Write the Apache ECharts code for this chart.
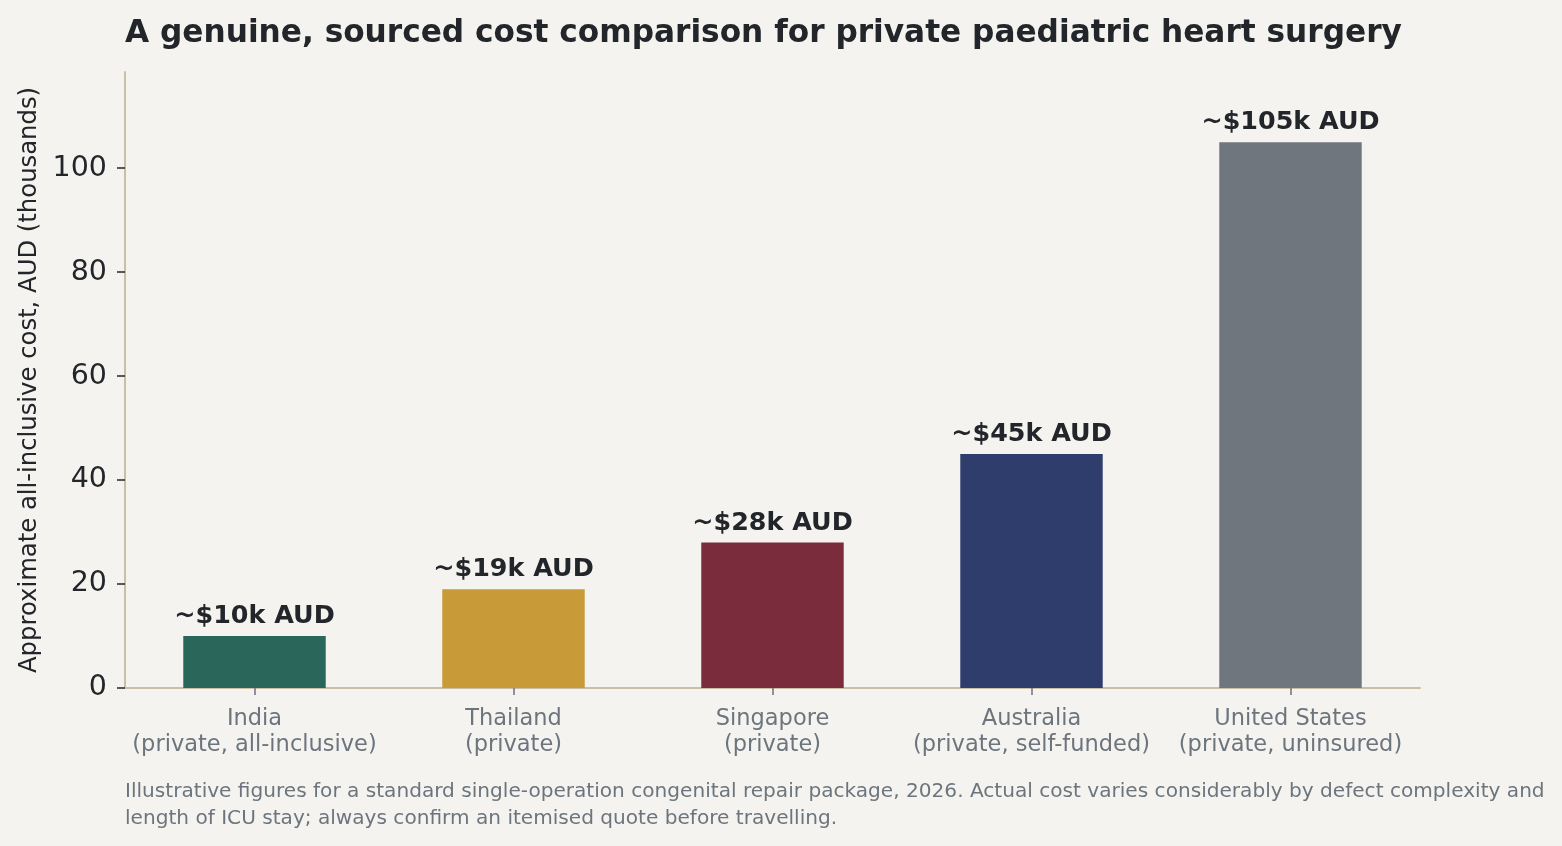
<!DOCTYPE html>
<html><head><meta charset="utf-8">
<script src="https://cdn.jsdelivr.net/npm/echarts@6/dist/echarts.min.js"></script>
<style>html,body{margin:0;padding:0;background:#f4f3ef;}#c{width:1562px;height:846px;}</style>
</head><body><div id="c"></div>
<script>
const categories = ["India\n(private, all-inclusive)", "Thailand\n(private)", "Singapore\n(private)", "Australia\n(private, self-funded)", "United States\n(private, uninsured)"];
const values = [10, 19, 28, 45, 105];
const valueLabels = ["~$10k AUD", "~$19k AUD", "~$28k AUD", "~$45k AUD", "~$105k AUD"];
const barColors = ["#2a6659", "#c99a38", "#7a2c3d", "#2e3d6b", "#70767d"];
const yTicks = [0, 20, 40, 60, 80, 100];

const font = "DejaVu Sans";
const chart = echarts.init(document.getElementById('c'), null, {renderer: 'canvas'});
chart.setOption({
  backgroundColor: '#f4f3ef',
  animation: false,
  textStyle: {fontFamily: font},
  title: {
    text: "A genuine, sourced cost comparison for private paediatric heart surgery",
    left: 120, top: 13,
    textStyle: {fontFamily: font, fontWeight: 'bold', fontSize: 31.2, color: '#222529'}
  },
  grid: {left: 125, right: 142, top: 72, bottom: 158, containLabel: false},
  xAxis: {
    type: 'category', data: categories,
    axisLine: {show: true, lineStyle: {color: '#c8bfa6', width: 2}},
    axisTick: {show: true, alignWithLabel: true, length: 7, lineStyle: {color: '#6c757d', width: 1.5}},
    axisLabel: {color: '#6c757d', fontSize: 22.5, lineHeight: 26, margin: 18, interval: 0, fontFamily: font}
  },
  yAxis: {
    type: 'value', min: 0, max: 118.5, interval: 20,
    name: 'Approximate all-inclusive cost, AUD (thousands)',
    nameLocation: 'middle', nameGap: 83,
    nameTextStyle: {fontSize: 24.3, color: '#222529', fontFamily: font},
    axisLine: {show: true, lineStyle: {color: '#c8bfa6', width: 2}},
    axisTick: {show: true, length: 8, lineStyle: {color: '#222529', width: 1.5}},
    splitLine: {show: false},
    axisLabel: {color: '#222529', fontSize: 28.5, margin: 18, fontFamily: font,
      showMaxLabel: false,
      formatter: v => yTicks.includes(v) ? String(v) : ''}
  },
  series: [{
    type: 'bar', barWidth: '55%',
    data: values.map((v, i) => ({value: v, itemStyle: {color: barColors[i]}})),
    label: {show: true, position: 'top', distance: 7,
      formatter: p => valueLabels[p.dataIndex],
      fontFamily: font, fontWeight: 'bold', fontSize: 25.4, color: '#222529'}
  }],
  graphic: [{
    type: 'text', left: 125, top: 778,
    style: {text: "Illustrative figures for a standard single-operation congenital repair package, 2026. Actual cost varies considerably by defect complexity and\nlength of ICU stay; always confirm an itemised quote before travelling.",
      fontFamily: font, fontSize: 20.1, lineHeight: 27, fill: '#6c757d'}
  }]
});
</script></body></html>
